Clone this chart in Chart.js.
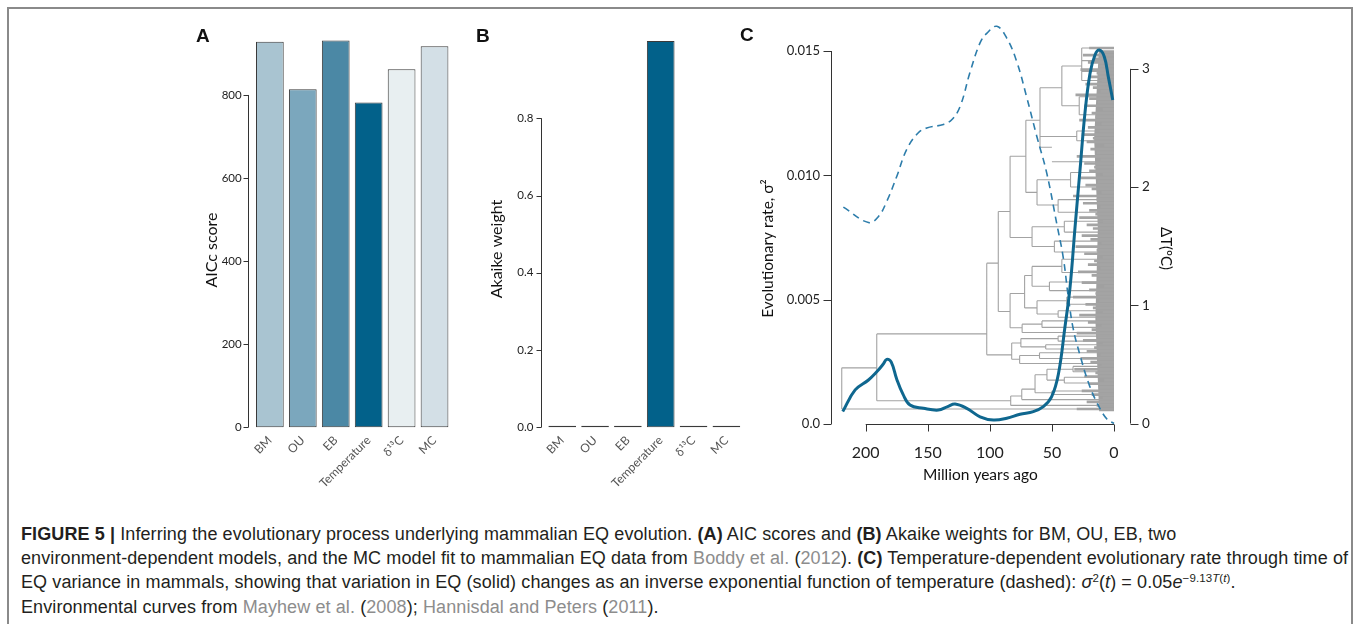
<!DOCTYPE html>
<html>
<head>
<meta charset="utf-8">
<script src="https://cdn.jsdelivr.net/npm/chart.js@4.4.0/dist/chart.umd.min.js"></script>
<style>
  html, body { margin: 0; padding: 0; background: #fff; }
  body { width: 1360px; height: 624px; position: relative; overflow: hidden; }
  #frame { position: absolute; left: 7px; top: 7px; width: 1346px; height: 700px; border: 2px solid #8a8a8a; box-sizing: border-box; }
  canvas { position: absolute; }
  .plab { position: absolute; font-family: "Liberation Sans", Arial, sans-serif; font-weight: bold; font-size: 19px; color: #111; }
  .cap { position: absolute; left: 21px; font-family: "Liberation Sans", Arial, sans-serif; font-size: 18px; letter-spacing: 0.1px; line-height: 24.4px; color: #231f20; white-space: nowrap; }
  .cap .g { color: #8d8d8d; }
  .cap sup { font-size: 11.5px; line-height: 0; vertical-align: 0.55em; }
</style>
</head>
<body>
<div id="frame"></div>
<canvas id="cA" width="275" height="480" style="left:185px;top:10px"></canvas>
<canvas id="cB" width="275" height="480" style="left:475px;top:10px"></canvas>
<canvas id="cC" width="450" height="480" style="left:735px;top:10px"></canvas>
<div class="plab" style="left:196px;top:25px">A</div>
<div class="plab" style="left:476px;top:25px">B</div>
<div class="plab" style="left:740px;top:24px">C</div>
<div class="cap" style="top:521.5px"><b>FIGURE 5 |</b> Inferring the evolutionary process underlying mammalian EQ evolution. <b>(A)</b> AIC scores and <b>(B)</b> Akaike weights for BM, OU, EB, two</div>
<div class="cap" style="top:545.9px">environment-dependent models, and the MC model fit to mammalian EQ data from <span class="g">Boddy et al.</span> (<span class="g">2012</span>). <b>(C)</b> Temperature-dependent evolutionary rate through time of</div>
<div class="cap" style="top:570.3px">EQ variance in mammals, showing that variation in EQ (solid) changes as an inverse exponential function of temperature (dashed): <i>σ</i><sup>2</sup>(<i>t</i>) = 0.05<i>e</i><sup>−9.13<i>T</i>(<i>t</i>)</sup>.</div>
<div class="cap" style="top:594.7px">Environmental curves from <span class="g">Mayhew et al.</span> (<span class="g">2008</span>); <span class="g">Hannisdal and Peters</span> (<span class="g">2011</span>).</div>
<script>
// ---------------- data ----------------
const models = ['BM', 'OU', 'EB', 'Temperature', 'δ¹³C', 'MC'];
const aiccScores = [928, 814, 931, 782, 862, 917];
const akaikeWeights = [0, 0, 0, 1.0, 0, 0];
const modelColors = ['#a9c4d1', '#7ba7bd', '#4b88a5', '#02618a', '#e8eff1', '#d3dfe6'];

const aTicks = [0, 200, 400, 600, 800];
const aTickLabels = ['0', '200', '400', '600', '800'];
const bTicks = [0, 0.2, 0.4, 0.6, 0.8];
const bTickLabels = ['0.0', '0.2', '0.4', '0.6', '0.8'];

// Panel C: evolutionary rate (solid) and temperature (dashed) through time (Ma)
const rateAge = [218.5, 208.5, 197.8, 191.1, 186, 183.0, 179.5, 175, 170, 164.3, 153.5, 141.5, 134, 128.0, 118.6, 107.9, 97.2, 86.4, 75.7, 65, 56.9, 50.2, 44.8, 39.5, 35.4, 31.4, 27.4, 23.4, 19.3, 15.3, 11.8, 7.8, 4.6, 1.0];
const rateSigma2 = [0.0005, 0.00137, 0.00177, 0.0021, 0.0024, 0.0026, 0.0025, 0.0018, 0.0012, 0.00076, 0.00063, 0.00056, 0.0007, 0.0008, 0.00063, 0.00029, 0.00016, 0.00023, 0.00039, 0.0005, 0.0007, 0.0011, 0.002, 0.0039, 0.0055, 0.0079, 0.0102, 0.0125, 0.0141, 0.01484, 0.01504, 0.01477, 0.01397, 0.01303];
const tempAge = [218.0, 197.8, 189.8, 183.0, 175.0, 166.9, 157.6, 150.8, 137.4, 130.7, 124.0, 116.0, 107.9, 102.5, 94.4, 86.4, 78.3, 70.3, 62.2, 54.2, 46.1, 40.8, 36.8, 32.8, 27.4, 20.7, 13.9, 5.9, 0];
const tempDelta = [1.83, 1.70, 1.75, 1.88, 2.09, 2.32, 2.46, 2.50, 2.53, 2.57, 2.68, 2.97, 3.22, 3.30, 3.36, 3.26, 3.06, 2.76, 2.43, 2.12, 1.69, 1.40, 1.07, 0.80, 0.58, 0.35, 0.18, 0.04, 0];

const cXTicks = [0, 50, 100, 150, 200];
const cXTickLabels = ['0', '50', '100', '150', '200'];
const cYTicks = [0, 0.005, 0.010, 0.015];
const cYTickLabels = ['0.0', '0.005', '0.010', '0.015'];
const cY2Ticks = [0, 1, 2, 3];
const cY2TickLabels = ['0', '1', '2', '3'];

// Phylogeny (simplified): node age (Ma), row position (tip order, 0-100), parent index
const treeAge = [219.3, 0, 191.1, 83.2, 0, 74.3, 0, 63.6, 50, 0, 0, 54, 40, 0, 0, 33, 0, 0,
  102.5, 82.4, 76, 0, 60, 0, 0, 75, 55, 0, 0, 45, 0, 0,
  93.2, 83.7, 74, 0, 58, 0, 0, 72, 62, 45, 0, 0, 38, 0, 0, 66, 52, 0, 0, 42, 0, 0,
  83.7, 66, 48, 0, 0, 40, 0, 0, 71, 62, 45, 0, 0, 35, 0, 0, 59.6, 50, 0, 30, 0, 0, 42, 28, 0, 0, 26, 0, 0, 0, 0];
const treeRow = [5.7, 0, 11.4, 2.3, 1.0, 3.6, 2.6, 5.5, 4.5, 4.0, 5.0, 9.5, 8.0, 7.2, 8.8, 11.0, 10.3, 11.8,
  20.8, 15.0, 13.8, 12.6, 14.8, 14.0, 15.6, 18.3, 17.2, 16.6, 17.8, 19.5, 18.8, 20.2,
  40.4, 27.0, 22.5, 21.2, 23.5, 22.6, 24.4, 32.0, 28.0, 26.3, 25.4, 27.2, 30.0, 29.0, 31.0, 37.0, 34.0, 32.8, 35.2, 39.5, 37.8, 41.5,
  54.7, 47.5, 45.0, 43.5, 46.5, 50.5, 49.0, 52.0, 70.0, 60.0, 56.5, 54.5, 58.0, 63.5, 61.5, 65.5, 80.0, 72.5, 68.5, 75.5, 74.3, 77.0, 89.0, 84.0, 81.5, 86.5, 95.0, 91.0, 93.5, 96.5, 100];
const treeParent = [-1, 0, 0, 2, 3, 3, 5, 5, 7, 8, 8, 7, 11, 12, 12, 11, 15, 15,
  2, 18, 19, 20, 20, 22, 22, 19, 25, 26, 26, 25, 29, 29,
  18, 32, 33, 34, 34, 36, 36, 33, 39, 40, 41, 41, 40, 44, 44, 39, 47, 48, 48, 47, 51, 51,
  32, 54, 55, 56, 56, 55, 59, 59, 54, 62, 63, 64, 64, 63, 67, 67, 62, 70, 71, 70, 73, 73, 70, 76, 77, 77, 76, 80, 80, 80, 80];
// Recent terminal branches (one per row 0..100): age where each tip branch starts
const tipStartAge = [30, 14, 22, 9, 18, 26, 12, 20, 8, 24, 15, 32, 10, 19, 27, 11, 22, 16, 9, 25, 13,
  30, 18, 10, 21, 14, 28, 9, 17, 23, 12, 33, 15, 20, 8, 26, 13, 18, 29, 11, 21,
  16, 9, 24, 14, 31, 10, 19, 26, 12, 17, 22, 9, 28, 15, 20, 11, 25, 14, 33, 10,
  18, 23, 13, 27, 9, 20, 16, 24, 11, 30, 14, 19, 8, 22, 17, 26, 12, 21, 10, 28,
  15, 18, 9, 24, 13, 20, 31, 11, 17, 23, 10, 19, 14, 27, 12, 21, 16, 25, 11, 20];
// Solid core of the tip block: rows and left-edge ages
const coreRow = [-0.6, 25, 50, 75, 100.6];
const coreAge = [12, 15, 13, 16, 12];

// ---------------- helpers ----------------
Chart.defaults.font.family = 'Lato, "Open Sans", sans-serif';
Chart.defaults.color = '#222';

function makeAxes(spec) {
  return {
    id: 'rAxes',
    beforeDatasetsDraw(chart) {
      const ctx = chart.ctx, ca = chart.chartArea;
      ctx.save();
      ctx.strokeStyle = '#333';
      ctx.lineWidth = 1;
      ctx.beginPath();
      for (const a of spec) {
        const s = chart.scales[a.scale];
        const px = s.ticks.map(t => s.getPixelForValue(t.value));
        if (a.dir === 'x') {
          const y = Math.round(chart.scales[a.atScale].getPixelForValue(a.atValue)) + 0.5;
          ctx.moveTo(Math.min(...px), y); ctx.lineTo(Math.max(...px), y);
          px.forEach(x => { const xx = Math.round(x) + 0.5; ctx.moveTo(xx, y); ctx.lineTo(xx, y + a.len); });
        } else {
          const x = Math.round((a.side === 'left' ? ca.left : ca.right) + a.shift) + 0.5;
          ctx.moveTo(x, Math.min(...px)); ctx.lineTo(x, Math.max(...px));
          const d = a.side === 'left' ? -a.len : a.len;
          px.forEach(y => { const yy = Math.round(y) + 0.5; ctx.moveTo(x, yy); ctx.lineTo(x + d, yy); });
        }
      }
      ctx.stroke();
      ctx.restore();
    }
  };
}
const noGrid = { display: false, drawTicks: false, tickLength: 0 };
const noBorder = { display: false };

function barChart(id, values, colors, tickVals, tickLabels, yMax, yTitle, cfg) {
  return new Chart(document.getElementById(id), {
    type: 'bar',
    data: {
      labels: models,
      datasets: [{
        data: values, backgroundColor: colors, borderColor: '#3a3a3a', borderWidth: 1,
        borderSkipped: false, barPercentage: 0.842, categoryPercentage: 1, clip: false, minBarLength: 1.6
      }]
    },
    options: {
      responsive: false, animation: false,
      layout: { padding: { top: cfg.top, right: cfg.right, left: 0, bottom: 0 } },
      plugins: { legend: { display: false }, tooltip: { enabled: false } },
      scales: {
        x: {
          grid: noGrid, border: noBorder,
          ticks: { minRotation: 45, maxRotation: 45, autoSkip: false, color: '#555', font: { size: 12 }, padding: 6 },
          afterFit: s => { s.height = 62.7; }
        },
        y: {
          min: 0, max: yMax, grid: noGrid, border: noBorder,
          afterBuildTicks: s => { s.ticks = tickVals.map(v => ({ value: v })); },
          ticks: { callback: (v, i) => tickLabels[i], color: '#222', font: { size: 11.5 }, padding: cfg.tickPad },
          title: { display: true, text: yTitle, color: '#111', font: { size: 16 }, padding: { top: cfg.titlePad, bottom: 0 } },
          afterFit: s => { s.width = cfg.yWidth; }
        }
      }
    },
    plugins: [makeAxes([{ scale: 'y', dir: 'y', side: 'left', shift: -5, len: 5 }])]
  });
}

barChart('cA', aiccScores, modelColors, aTicks, aTickLabels, 853.6, 'AICc score',
  { top: 62.7, right: 9, tickPad: 11.7, titlePad: 17.1, yWidth: 68.4 });
barChart('cB', akaikeWeights, modelColors, bTicks, bTickLabels, 0.9232, 'Akaike weight',
  { top: 60.7, right: 7.2, tickPad: 12.5, titlePad: 12.1, yWidth: 70.8 });

// ---------------- panel C ----------------
const treeSegs = [];
for (let i = 0; i < treeAge.length; i++) {
  const p = treeParent[i];
  if (p < 0) continue;
  treeSegs.push({ x: treeAge[p], y: treeRow[i] }, { x: treeAge[i], y: treeRow[i] }, { x: treeAge[i], y: null });
}
for (let p = 0; p < treeAge.length; p++) {
  const rows = [];
  treeParent.forEach((q, i) => { if (q === p) rows.push(treeRow[i]); });
  if (!rows.length) continue;
  treeSegs.push({ x: treeAge[p], y: Math.min(...rows) }, { x: treeAge[p], y: Math.max(...rows) }, { x: treeAge[p], y: null });
}
const tipSegs = [];
tipStartAge.forEach((a, r) => { tipSegs.push({ x: a, y: r }, { x: 0, y: r }, { x: 0, y: null }); });
const corePoly = coreRow.map((r, i) => ({ x: coreAge[i], y: r }));
corePoly.push({ x: 0, y: coreRow[coreRow.length - 1] }, { x: 0, y: coreRow[0] });

new Chart(document.getElementById('cC'), {
  type: 'line',
  data: {
    datasets: [
      { data: rateAge.map((a, i) => ({ x: a, y: rateSigma2[i] })), yAxisID: 'y', borderColor: '#0f678f', borderWidth: 3,
        pointRadius: 0, tension: 0.4, fill: false, clip: false, order: 0 },
      { data: tempAge.map((a, i) => ({ x: a, y: tempDelta[i] })), yAxisID: 'y2', borderColor: '#2d7dab', borderWidth: 1.6,
        borderDash: [7, 5], pointRadius: 0, tension: 0.4, fill: false, clip: false, order: 1 },
      { data: treeSegs, yAxisID: 'yt', borderColor: '#a3a3a3', borderWidth: 1.1, pointRadius: 0, tension: 0,
        spanGaps: false, fill: false, clip: false, order: 2 },
      { data: tipSegs, yAxisID: 'yt', borderColor: '#a4a4a4', borderWidth: 2.7, pointRadius: 0, tension: 0,
        spanGaps: false, fill: false, clip: false, order: 3, borderCapStyle: 'butt' },
      { data: corePoly, yAxisID: 'yt', borderColor: 'rgba(0,0,0,0)', borderWidth: 0, backgroundColor: '#a0a0a0',
        pointRadius: 0, tension: 0, fill: 'shape', clip: false, order: 4 }
    ]
  },
  options: {
    responsive: false, animation: false,
    layout: { padding: { top: 41, left: 0, right: 0, bottom: 0 } },
    plugins: { legend: { display: false }, tooltip: { enabled: false } },
    scales: {
      x: {
        type: 'linear', reverse: true, min: -12.9, max: 228.2, grid: noGrid, border: noBorder,
        afterBuildTicks: s => { s.ticks = cXTicks.map(v => ({ value: v })); },
        ticks: { callback: (v, i) => cXTickLabels[i], font: { size: 16 }, color: '#222', padding: -3, maxRotation: 0 },
        title: { display: true, text: 'Million years ago', font: { size: 15.5 }, color: '#111', padding: { top: 0, bottom: 5.5 } },
        afterFit: s => { s.height = 44; }
      },
      y: {
        type: 'linear', position: 'left', min: -0.000885, max: 0.015, grid: noGrid, border: noBorder,
        afterBuildTicks: s => { s.ticks = cYTicks.map(v => ({ value: v })); },
        ticks: { callback: (v, i) => cYTickLabels[i], font: { size: 13 }, color: '#222', padding: 10.7 },
        title: { display: true, text: 'Evolutionary rate, σ²', font: { size: 15.5 }, color: '#111', padding: { top: 23.4, bottom: 0 } },
        afterFit: s => { s.width = 95.7; }
      },
      y2: {
        type: 'linear', position: 'right', min: -0.19, max: 3.151, grid: noGrid, border: noBorder,
        afterBuildTicks: s => { s.ticks = cY2Ticks.map(v => ({ value: v })); },
        ticks: { callback: (v, i) => cY2TickLabels[i], font: { size: 13.5 }, color: '#222', padding: 12 },
        title: { display: true, text: 'ΔT(ºC)', font: { size: 15 }, color: '#111', padding: { top: 10.4, bottom: 0 } },
        afterFit: s => { s.width = 55; }
      },
      yt: { type: 'linear', display: false, min: -10.25, max: 99.17 }
    }
  },
  plugins: [makeAxes([
    { scale: 'y', dir: 'y', side: 'left', shift: 0, len: 8 },
    { scale: 'y2', dir: 'y', side: 'right', shift: 0, len: 8 },
    { scale: 'x', dir: 'x', atScale: 'y', atValue: 0, len: 7 }
  ])]
});
</script>
</body>
</html>
